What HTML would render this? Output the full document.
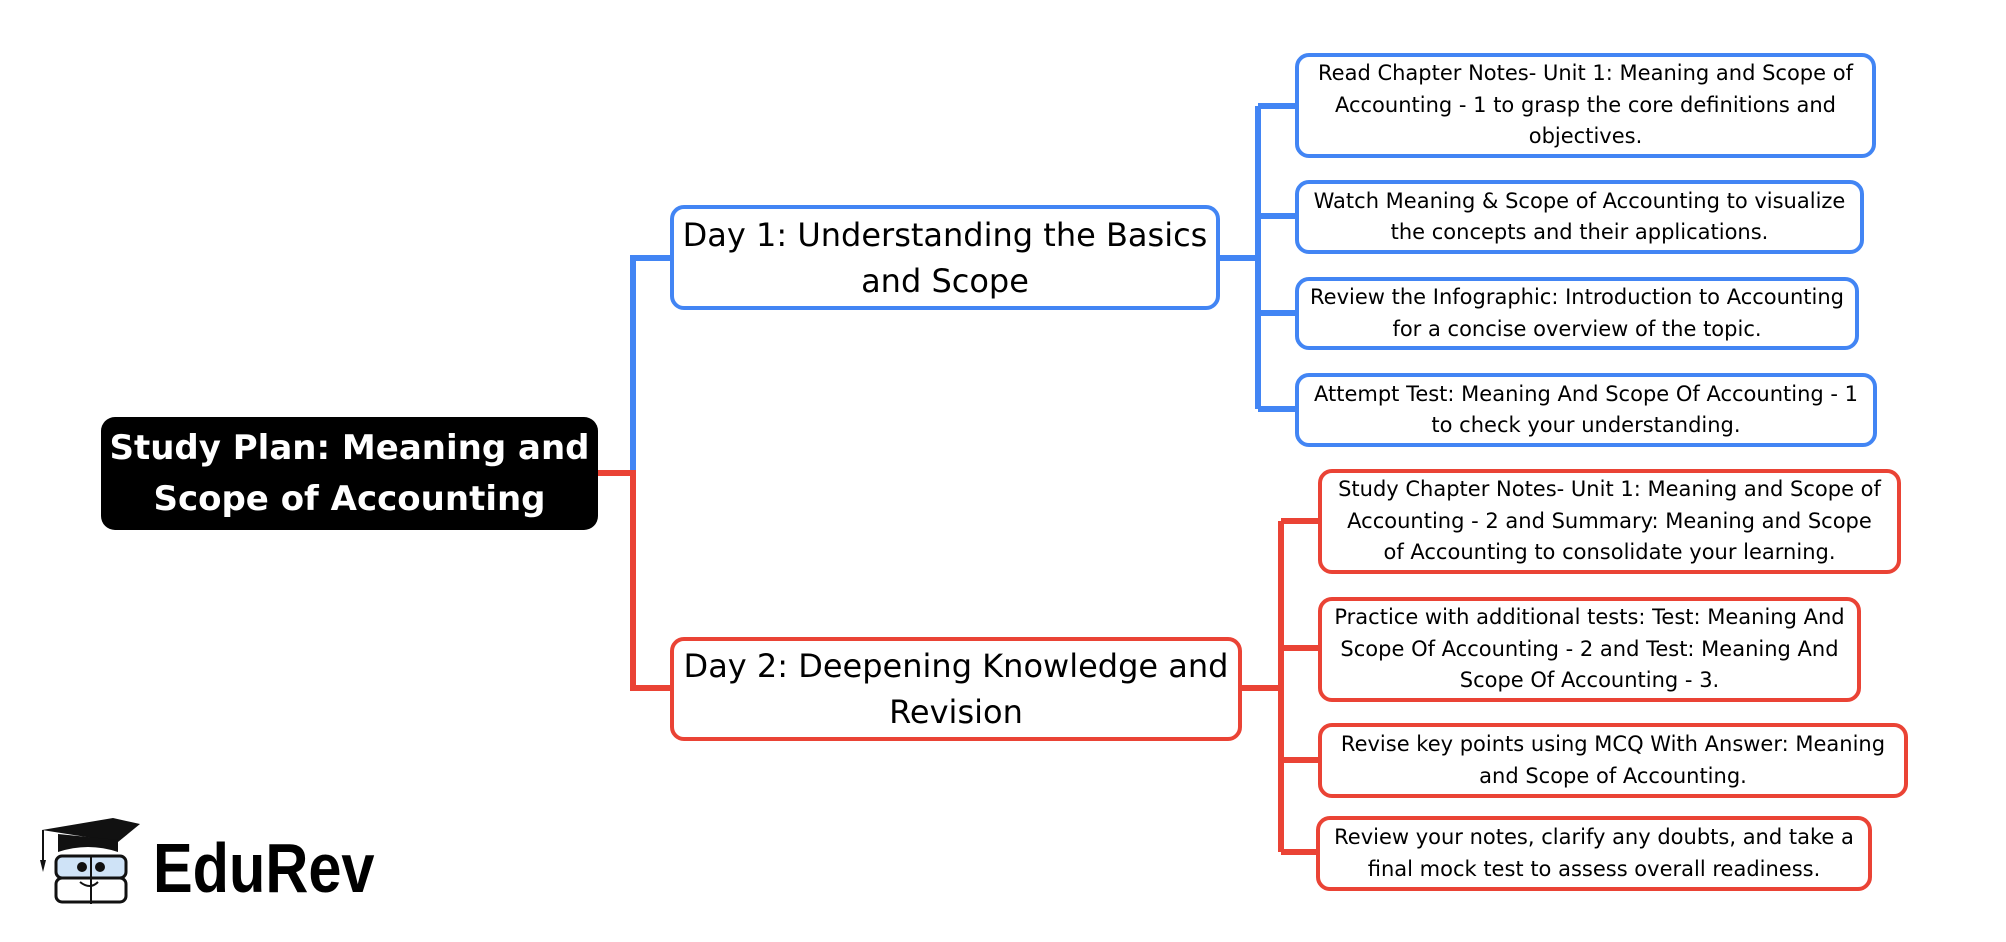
<!DOCTYPE html>
<html><head><meta charset="utf-8"><style>
html,body{margin:0;padding:0;background:#fff;}
body{width:2006px;height:942px;position:relative;overflow:hidden;font-family:"DejaVu Sans","Liberation Sans",sans-serif;}
.b{position:absolute;box-sizing:border-box;display:flex;align-items:center;justify-content:center;text-align:center;border-radius:14px;background:#fff;color:#000;white-space:nowrap;}
.c{font-size:21px;line-height:31.5px;border:4px solid;}
.d{font-size:32px;line-height:46px;border:4px solid;}
.bl{border-color:#4285f4;}
.rd{border-color:#ea4335;}
</style></head><body>
<svg width="2006" height="942" style="position:absolute;left:0;top:0">
<g fill="none" stroke-width="6">
<path d="M598 473 H633 V258 H672" stroke="#4285f4"/>
<path d="M598 473 H633 V688 H672" stroke="#ea4335"/>
<path d="M1218 258 H1258 M1258 106 V409 M1258 106 H1297 M1258 216 H1297 M1258 313 H1297 M1258 409 H1297" stroke="#4285f4"/>
<path d="M1240 688 H1281 M1281 521 V852 M1281 521 H1320 M1281 648 H1320 M1281 760 H1320 M1281 852 H1320" stroke="#ea4335"/>
</g>
</svg>
<div class="b" style="left:101px;top:417px;width:497px;height:113px;background:#000;color:#fff;font-weight:bold;font-size:34px;line-height:51px;">Study Plan: Meaning and<br>Scope of Accounting</div>
<div class="b d bl" style="left:670px;top:205px;width:550px;height:105px;">Day 1: Understanding the Basics<br>and Scope</div>
<div class="b d rd" style="left:670px;top:637px;width:572px;height:104px;">Day 2: Deepening Knowledge and<br>Revision</div>
<div class="b c bl" style="left:1295px;top:53px;width:581px;height:105px;">Read Chapter Notes- Unit 1: Meaning and Scope of<br>Accounting - 1 to grasp the core definitions and<br>objectives.</div>
<div class="b c bl" style="left:1295px;top:180px;width:569px;height:74px;">Watch Meaning &amp; Scope of Accounting to visualize<br>the concepts and their applications.</div>
<div class="b c bl" style="left:1295px;top:277px;width:564px;height:73px;">Review the Infographic: Introduction to Accounting<br>for a concise overview of the topic.</div>
<div class="b c bl" style="left:1295px;top:373px;width:582px;height:74px;">Attempt Test: Meaning And Scope Of Accounting - 1<br>to check your understanding.</div>
<div class="b c rd" style="left:1318px;top:469px;width:583px;height:105px;">Study Chapter Notes- Unit 1: Meaning and Scope of<br>Accounting - 2 and Summary: Meaning and Scope<br>of Accounting to consolidate your learning.</div>
<div class="b c rd" style="left:1318px;top:597px;width:543px;height:105px;">Practice with additional tests: Test: Meaning And<br>Scope Of Accounting - 2 and Test: Meaning And<br>Scope Of Accounting - 3.</div>
<div class="b c rd" style="left:1318px;top:723px;width:590px;height:75px;">Revise key points using MCQ With Answer: Meaning<br>and Scope of Accounting.</div>
<div class="b c rd" style="left:1316px;top:816px;width:556px;height:75px;">Review your notes, clarify any doubts, and take a<br>final mock test to assess overall readiness.</div>
<svg width="110" height="95" style="position:absolute;left:38px;top:812px" viewBox="0 0 110 95">
<path d="M4 18 L75 6 L102 12 L80 30 Z" fill="#111"/>
<path d="M20 22 L20 40 Q50 30 80 40 L80 28 Z" fill="#111"/>
<path d="M5 18 V48" stroke="#111" stroke-width="2"/>
<path d="M2 48 L8 48 L5 60 Z" fill="#111"/>
<rect x="18" y="44" width="70" height="22" rx="6" fill="#cfe3f7" stroke="#111" stroke-width="3"/>
<rect x="18" y="66" width="70" height="24" rx="6" fill="#fff" stroke="#111" stroke-width="3"/>
<path d="M53 44 V92" stroke="#111" stroke-width="2"/>
<circle cx="44" cy="55" r="5" fill="#111"/><circle cx="62" cy="55" r="5" fill="#111"/>
<path d="M42 70 Q52 78 60 70" stroke="#111" stroke-width="2" fill="none"/>
</svg>
<div style="position:absolute;left:153px;top:828px;font-family:'Liberation Sans',sans-serif;font-weight:bold;font-size:70px;line-height:80px;transform:scaleX(0.85);transform-origin:left top;color:#000;">EduRev</div>
</body></html>
